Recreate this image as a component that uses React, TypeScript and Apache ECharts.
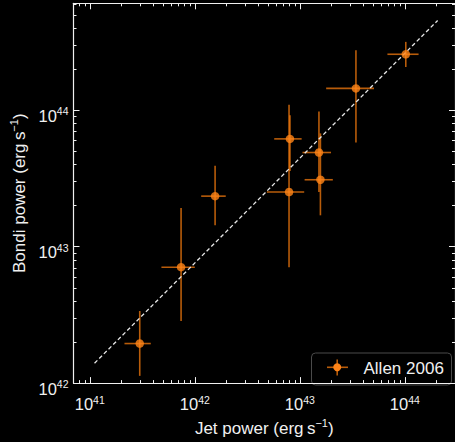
import React, { useEffect, useRef } from "react";
import * as echarts from "echarts";

// Jet power vs Bondi accretion power for the Allen et al. (2006) sample, erg/s
const jetPower = [2.99e41, 7.4e41, 1.56e42, 8.05e42, 7.89e42, 1.52e43, 1.57e43, 3.42e43, 1.02e44];
const jetPowerLow = [2.14e41, 4.81e41, 1.15e42, 5.7e42, 4.86e42, 1.06e43, 1.11e43, 1.78e43, 6.82e43];
const jetPowerHigh = [3.81e41, 1.0e42, 1.97e42, 1.04e43, 1.1e43, 1.98e43, 2.06e43, 5.08e43, 1.35e44];
const bondiPower = [1.95e42, 7.08e42, 2.35e43, 6.18e43, 2.52e43, 4.91e43, 3.1e43, 1.45e44, 2.58e44];
const bondiPowerLow = [1.13e42, 2.85e42, 1.44e43, 3.6e43, 7.08e42, 2.52e43, 1.7e43, 5.81e43, 2.08e44];
const bondiPowerHigh = [3.38e42, 1.92e43, 3.92e43, 9.2e43, 1.1e44, 9.8e43, 6.78e43, 2.76e44, 3.18e44];

// power-law relation, drawn between these two end points
const fitJet = [1.11e41, 2.05e44];
const fitBondi = [1.4e42, 4.56e44];

// axis extents and decade labels
const xRange = [7e40, 3e44];
const yRange = [1e42, 6.1e44];
const xDecades = [41, 42, 43, 44];
const yDecades = [42, 43, 44];

const seriesName = "Allen 2006";

const lg = Math.log10;
const FONT = "Liberation Sans, Arial, Helvetica, sans-serif";
const FG = "#f0f0f0";
const ORANGE = "#ff8418";
const BAR = "rgba(255,127,14,0.72)";

// log10 positions of the 2..9 minor ticks that fall inside a range
function minorTicks(range: number[]): number[] {
  const lo = lg(range[0]);
  const hi = lg(range[1]);
  const out: number[] = [];
  for (let n = Math.floor(lo); n <= Math.ceil(hi); n++) {
    for (let k = 2; k <= 9; k++) {
      const v = n + lg(k);
      if (v > lo + 1e-9 && v < hi - 1e-9) out.push(v);
    }
  }
  return out;
}

const tickRich = {
  b: { fontSize: 16.5, fontFamily: FONT, color: FG, lineHeight: 20 },
  s: { fontSize: 10.5, fontFamily: FONT, color: FG, verticalAlign: "top", lineHeight: 12 },
};

const nameRich = {
  t: { fontSize: 17, fontFamily: FONT, color: FG, lineHeight: 22 },
  s: { fontSize: 11, fontFamily: FONT, color: FG, verticalAlign: "top", lineHeight: 13 },
};

function axisSet(
  range: number[],
  decades: number[],
  main: string,
  mirror: string,
  labelMargin: number,
  labelPadding: number[],
  name: string,
  nameGap: number
) {
  const base = {
    type: "value" as const,
    min: lg(range[0]),
    max: lg(range[1]),
    splitLine: { show: false },
    axisLine: { show: true, onZero: false, lineStyle: { color: FG, width: 1.2 } },
  };
  const minors = minorTicks(range);
  return [
    {
      ...base,
      position: main,
      axisTick: { show: true, inside: true, length: 6, customValues: decades, lineStyle: { color: FG, width: 1 } },
      axisLabel: {
        show: true,
        customValues: decades,
        margin: labelMargin,
        padding: labelPadding,
        formatter: (v: number) => `{b|10}{s|${Math.round(v)}}`,
        rich: tickRich,
      },
      name,
      nameLocation: "middle",
      nameGap,
      nameTextStyle: { rich: nameRich },
    },
    {
      ...base,
      position: mirror,
      axisTick: { show: true, inside: true, length: 6, customValues: decades, lineStyle: { color: FG, width: 1 } },
      axisLabel: { show: false },
    },
    {
      ...base,
      position: main,
      axisLine: { show: false, onZero: false },
      axisTick: { show: true, inside: true, length: 3, customValues: minors, lineStyle: { color: FG, width: 1 } },
      axisLabel: { show: false },
    },
    {
      ...base,
      position: mirror,
      axisLine: { show: false, onZero: false },
      axisTick: { show: true, inside: true, length: 3, customValues: minors, lineStyle: { color: FG, width: 1 } },
      axisLabel: { show: false },
    },
  ];
}

export default function App() {
  const ref = useRef<HTMLDivElement>(null);

  useEffect(() => {
    if (!ref.current) return;
    const chart = echarts.init(ref.current, null, { renderer: "svg" });

    const points = jetPower.map((x, i) => [lg(x), lg(bondiPower[i])]);
    const bars = jetPower.map((x, i) => [
      lg(x),
      lg(bondiPower[i]),
      lg(jetPowerLow[i]),
      lg(jetPowerHigh[i]),
      lg(bondiPowerLow[i]),
      lg(bondiPowerHigh[i]),
    ]);
    const fit = fitJet.map((x, i) => [lg(x), lg(fitBondi[i])]);

    const option: any = {
      animation: false,
      backgroundColor: "#000",
      grid: { left: 73.5, top: 3.3, width: 387.5, height: 389.7, containLabel: false },
      xAxis: axisSet(xRange, xDecades, "bottom", "top", 9, [2, 0, 0, 0], "{t|Jet power (erg\u2009s}{s|\u22121}{t|)}", 31),
      yAxis: axisSet(yRange, yDecades, "left", "right", 5, [11, 0, 0, 0], "{t|Bondi power (erg\u2009s}{s|\u22121}{t|)}", 42),
      series: [
        {
          type: "custom",
          name: seriesName,
          xAxisIndex: 0,
          yAxisIndex: 0,
          silent: true,
          z: 2,
          data: bars,
          encode: { x: [0, 2, 3], y: [1, 4, 5] },
          renderItem: (_params: any, api: any) => {
            const x = api.value(0);
            const y = api.value(1);
            const pL = api.coord([api.value(2), y]);
            const pR = api.coord([api.value(3), y]);
            const pB = api.coord([x, api.value(4)]);
            const pT = api.coord([x, api.value(5)]);
            const style = { stroke: BAR, lineWidth: 1.6, fill: null };
            return {
              type: "group",
              children: [
                { type: "line", shape: { x1: pL[0], y1: pL[1], x2: pR[0], y2: pR[1] }, style },
                { type: "line", shape: { x1: pB[0], y1: pB[1], x2: pT[0], y2: pT[1] }, style },
              ],
            };
          },
        },
        {
          type: "line",
          xAxisIndex: 0,
          yAxisIndex: 0,
          data: fit,
          showSymbol: false,
          silent: true,
          z: 3,
          lineStyle: { color: "#e6e6e6", width: 1.3, type: [4, 2.6] },
        },
        {
          type: "scatter",
          name: seriesName,
          xAxisIndex: 0,
          yAxisIndex: 0,
          data: points,
          symbol: "circle",
          symbolSize: 8.5,
          z: 4,
          itemStyle: { color: ORANGE },
        },
      ],
      graphic: [
        {
          type: "group",
          left: 311,
          top: 352.5,
          children: [
            {
              type: "rect",
              shape: { x: 0, y: 0, width: 140, height: 32, r: 4 },
              style: { fill: "#000", stroke: "#4a4a4a", lineWidth: 1 },
            },
            { type: "line", shape: { x1: 15.5, y1: 14.3, x2: 36.5, y2: 14.3 }, style: { stroke: BAR, lineWidth: 1.6 } },
            { type: "line", shape: { x1: 25.7, y1: 6.5, x2: 25.7, y2: 22.5 }, style: { stroke: BAR, lineWidth: 1.6 } },
            { type: "circle", shape: { cx: 25.7, cy: 14.3, r: 4 }, style: { fill: ORANGE } },
            {
              type: "text",
              x: 52,
              y: 15,
              style: {
                text: seriesName,
                fill: FG,
                font: `17px ${FONT}`,
                verticalAlign: "middle",
              },
            },
          ],
        },
      ],
    };

    chart.setOption(option);
    return () => chart.dispose();
  }, []);

  return (
    <div
      ref={ref}
      style={{ position: "fixed", left: 0, top: 0, width: 455, height: 442, background: "#000" }}
    />
  );
}
